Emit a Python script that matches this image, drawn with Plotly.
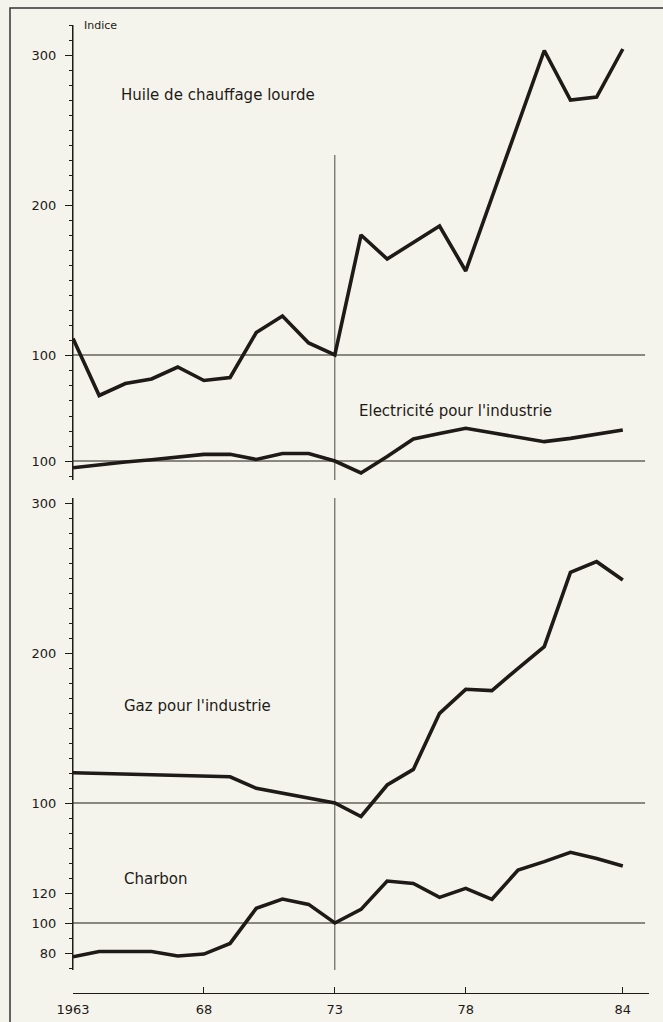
import plotly.graph_objects as go

years = list(range(1963, 1985))

huile = [111, 73, 81, 84, 92, 83, 85, 115, 126, 108, 100,
         180, 164, 175, 186, 156, 205, 254, 303, 270, 272, 304]
electricite = [95.5, 97.5, 99.3, 100.8, 102.5, 104.4, 104.5, 101, 105, 105, 100,
               92, 103, 114.7, 118.4, 121.8, 118.8, 115.8, 112.9, 115.1, 117.8, 120.7]
gaz = [120.2, 119.8, 119.3, 118.8, 118.4, 118, 117.5, 109.8, 106.5, 103.3, 100,
       91, 112, 122.4, 159.8, 175.8, 174.9, 189.8, 204.2, 253.8, 260.9, 248.7]
charbon = [77.5, 81, 81, 81, 78, 79.3, 86.4, 109.8, 116, 112.4, 100,
           109.1, 128, 126.4, 117.1, 123.1, 115.8, 135.3, 140.9, 147.1, 143, 138]

x_tickvals = [1963, 1968, 1973, 1978, 1984, 1985]
x_ticktext = ["1963", "68", "73", "78", "84", ""]

series_names = ["Huile de chauffage lourde", "Electricité pour l'industrie",
                "Gaz pour l'industrie", "Charbon"]

# ---- layout helpers (pixel geometry) ----
W, H = 663, 1022
L, R = 73, 649          # plot area x pixels
T, B = 25, 993          # plot area y pixels
PH = B - T
PW = R - L

def dy(py):
    return (B - py) / PH

def px(xp):
    return (xp - L) / PW

INK = "#1e1a17"
BG = "#f5f4ec"
FONT = "DejaVu Sans"

fig = go.Figure()
data = [huile, electricite, gaz, charbon]
axes = ["y", "y2", "y3", "y4"]
for vals, ax, name in zip(data, axes, series_names):
    fig.add_trace(go.Scatter(x=years, y=vals, mode="lines", name=name,
                             xaxis="x", yaxis=ax,
                             line=dict(color=INK, width=3.6),
                             showlegend=False, hoverinfo="skip"))

def yax(domain, rng, tickvals, minorvals):
    return dict(domain=domain, range=rng, anchor="x", automargin=False,
                showline=True, linecolor=INK, linewidth=1,
                showgrid=False, zeroline=False,
                tickmode="array", tickvals=tickvals,
                ticktext=[str(v) for v in tickvals],
                ticks="outside", ticklen=7, tickwidth=1, tickcolor=INK,
                tickfont=dict(family=FONT, size=13, color=INK),
                ticklabelstandoff=6,
                minor=dict(tickmode="array", tickvals=minorvals, ticks="outside",
                           ticklen=3, tickwidth=1, tickcolor=INK),
                fixedrange=True)

fig.update_layout(
    width=W, height=H,
    margin=dict(l=L, r=W - R, t=T, b=H - B, pad=0, autoexpand=False),
    paper_bgcolor=BG, plot_bgcolor=BG,
    xaxis=dict(domain=[0, 1], range=[1963, 1985], anchor="free", position=0,
               automargin=False,
               showline=True, linecolor=INK, linewidth=1, showgrid=False,
               zeroline=False, tickmode="array", tickvals=x_tickvals,
               ticktext=x_ticktext, ticks="inside", ticklen=6, tickcolor=INK,
               ticklabelstandoff=4,
               tickfont=dict(family=FONT, size=13, color=INK), fixedrange=True),
    yaxis=yax([dy(408), 1.0], [100 - 53 / 1.5, 320], [100, 200, 300],
              list(range(70, 321, 10))),
    yaxis2=yax([dy(480), dy(408)], [100 - 19 / 1.5, 100 + 53 / 1.5], [100],
               [90, 110, 120, 130]),
    yaxis3=yax([dy(840), dy(498)], [100 - 37 / 1.5, 100 + 305 / 1.5],
               [100, 200, 300], list(range(80, 301, 10))),
    yaxis4=yax([dy(970), dy(840)], [100 - 47 / 1.5, 100 + 83 / 1.5],
               [80, 100, 120], list(range(70, 151, 10))),
)

shapes = []
# frame (left and top edges visible)
shapes.append(dict(type="rect", xref="paper", yref="paper",
                   x0=px(10), x1=px(W + 10), y0=dy(H + 10), y1=dy(8),
                   line=dict(color="#333", width=1.5), layer="below"))
# reference lines at 100
for ax in axes:
    shapes.append(dict(type="line", xref="x", yref=ax, x0=1963, x1=1984.85,
                       y0=100, y1=100, line=dict(color=INK, width=1)))
# vertical line at 1973 (upper and lower blocks)
shapes.append(dict(type="line", xref="x", yref="paper", x0=1973, x1=1973,
                   y0=dy(480), y1=dy(155), line=dict(color=INK, width=0.8)))
shapes.append(dict(type="line", xref="x", yref="paper", x0=1973, x1=1973,
                   y0=dy(970), y1=dy(498), line=dict(color=INK, width=0.8)))
# left axis continuity through panel joins
shapes.append(dict(type="line", xref="paper", yref="paper", x0=0, x1=0,
                   y0=dy(480), y1=dy(25), line=dict(color=INK, width=1)))
shapes.append(dict(type="line", xref="paper", yref="paper", x0=0, x1=0,
                   y0=dy(970), y1=dy(498), line=dict(color=INK, width=1)))
fig.update_layout(shapes=shapes)

ann = []
ann.append(dict(text="Indice", x=px(82), y=dy(26), xref="paper", yref="paper",
                xanchor="left", yanchor="middle", showarrow=False,
                font=dict(family=FONT, size=11, color=INK)))
label_pos = [(119, 95), (357, 411), (122, 706), (122, 879)]
for name, (lx, ly) in zip(series_names, label_pos):
    ann.append(dict(text=name, x=px(lx), y=dy(ly), xref="paper", yref="paper",
                    xanchor="left", yanchor="middle", showarrow=False,
                    font=dict(family=FONT, size=15, color=INK)))
fig.update_layout(annotations=ann)

fig.write_html("out.html",
               config={"displayModeBar": False},
               post_script="document.body.style.margin='0';"
                           "document.body.style.overflow='hidden';"
                           "document.body.style.background='%s';" % BG)
